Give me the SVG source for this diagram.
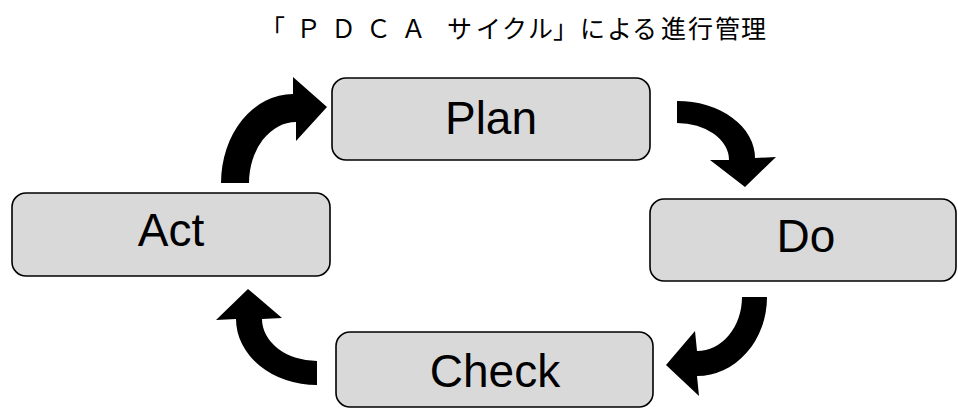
<svg xmlns="http://www.w3.org/2000/svg" width="958" height="410" viewBox="0 0 958 410">
<style>
.box{fill:#d9d9d9;stroke:#000;stroke-width:1.6}
.lbl{font-family:"Liberation Sans","Noto Sans",Arial,sans-serif;font-size:46px;fill:#000;text-anchor:middle}
.title{font-family:"Noto Sans CJK JP","Noto Sans CJK SC",sans-serif;font-size:25px;fill:#000}
.arr{fill:#000;stroke:none}
</style>
<rect width="958" height="410" fill="#fff"/>
<text class="title" y="38" x="260 296 331 366 401 447 476 502 528 553 580 607 632 661 688 715 741">「ＰＤＣＡサイクル」による進行管理</text>
<g id="plan"><rect class="box" x="332" y="78" width="318" height="82" rx="14"/><text class="lbl" x="491" y="134">Plan</text></g>
<g id="do"><rect class="box" x="650" y="199" width="306" height="82" rx="14"/><text class="lbl" x="806" y="252">Do</text></g>
<g id="check"><rect class="box" x="336" y="332" width="317" height="75" rx="14"/><text class="lbl" x="495" y="387">Check</text></g>
<g id="act"><rect class="box" x="12" y="193" width="318" height="83" rx="14"/><text class="lbl" x="171" y="246">Act</text></g>
<g id="connectors">
<path class="arr" d="M221,183 A72,89 0 0 1 293,94 L293,77 L327,107 L296,141 L296,122 A47,61 0 0 0 249,183 Z"/>
<path class="arr" d="M677,101 A78,57 0 0 1 755,158 L776,157 L745,187 L710,160 L729,160 A52,37 0 0 0 677,123 Z"/>
<path class="arr" d="M767,297 A70,79 0 0 1 697,376 L699,396 L666,365 L695,331 L697,351 A45,54 0 0 0 742,297 Z"/>
<path class="arr" d="M317,385 A81,66 0 0 1 236,319 L216,320 L248,289 L282,318 L262,319 A55,42 0 0 0 317,361 Z"/>
</g>
</svg>
